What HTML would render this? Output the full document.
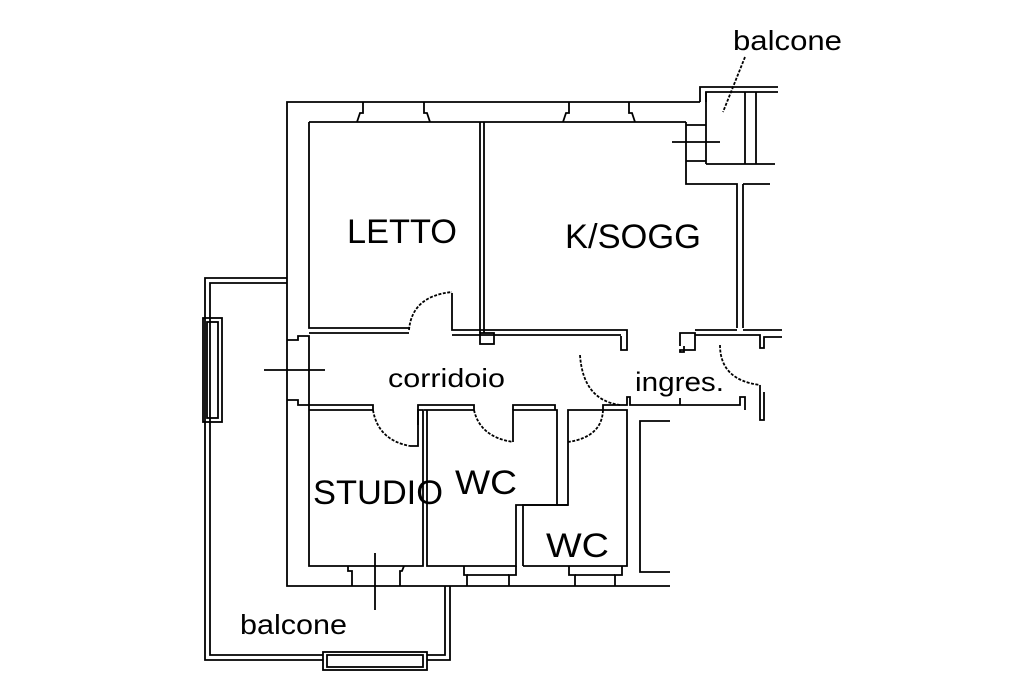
<!DOCTYPE html>
<html><head><style>
html,body{margin:0;padding:0;background:#fff;}
svg{display:block;}
text{font-family:"Liberation Sans",sans-serif;fill:#000;}
</style></head><body>
<svg width="1024" height="683" viewBox="0 0 1024 683" xmlns="http://www.w3.org/2000/svg">
<g fill="none" stroke="#000" stroke-width="1.8">
<polyline points="700,102 287,102 287,586 670,586"/>
<polyline points="686,122 309,122"/>
<polyline points="357,122 360,113 363,113 363,102"/>
<polyline points="430,122 427,113 424,113 424,102"/>
<polyline points="563,122 566,113 569,113 569,102"/>
<polyline points="635,122 632,113 629,113 629,102"/>
<polyline points="309,122 309,328 409,328"/>
<line x1="480" y1="122" x2="480" y2="333"/>
<line x1="484" y1="122" x2="484" y2="333"/>
<polyline points="452,293 452,330 627,330 627,350 621,350 621,336"/>
<rect x="480" y="333" width="14" height="11"/>
<line x1="309" y1="333" x2="409" y2="333"/>
<line x1="452" y1="335" x2="621" y2="335"/>
<path d="M409,330 Q412,296 452,292" stroke-dasharray="3,1.5"/>
<polyline points="686,122 686,184 737,184 737,328"/>
<polyline points="743,184 770,184"/>
<line x1="743" y1="184" x2="743" y2="328"/>
<polyline points="680,346 680,333 695,333 695,350 680,350 680,352 684,352 684,346"/>
<polyline points="695,330 737,330"/>
<polyline points="743,330 782,330"/>
<polyline points="695,335 760,335 760,348 764,348 764,337 782,337"/>
<path d="M720,345 Q720,380 760,385" stroke-dasharray="3,1.5"/>
<polyline points="760,385 760,420 764,420 764,392"/>
<polyline points="700,102 700,87 778,87"/>
<polyline points="706,102 706,92 778,92"/>
<line x1="706" y1="92" x2="706" y2="164"/>
<line x1="745" y1="92" x2="745" y2="164"/>
<line x1="756" y1="92" x2="756" y2="164"/>
<line x1="706" y1="164" x2="775" y2="164"/>
<line x1="686" y1="125" x2="706" y2="125"/>
<line x1="686" y1="161" x2="706" y2="161"/>
<line x1="672" y1="142" x2="720" y2="142"/>
<line x1="745" y1="57" x2="723" y2="112" stroke-dasharray="3,1.5"/>
<polyline points="287,340 298,340 298,336 309,336 309,410"/>
<polyline points="287,400 298,400 298,405 309,405"/>
<line x1="264" y1="370" x2="325" y2="370"/>
<path d="M580,355 Q583,400 620,405" stroke-dasharray="3,1.5"/>
<polyline points="309,405 373,405 373,410 309,410"/>
<polyline points="418,425 418,405 474,405 474,410"/>
<polyline points="513,410 513,405 555,405 555,410"/>
<polyline points="603,410 603,405 627,405 627,397 630,397 630,405 740,405 740,397 745,397 745,410"/>
<line x1="680" y1="398" x2="680" y2="405"/>
<polyline points="309,410 309,566 423,566 423,410 418,410 418,446 410,446"/>
<path d="M373,410 Q378,440 410,446" stroke-dasharray="3,1.5"/>
<polyline points="348,566 348,571 352,571 352,586"/>
<polyline points="404,566 402,571 400,571 400,586"/>
<line x1="375" y1="553" x2="375" y2="610"/>
<polyline points="427,410 427,566 516,566 516,505 557,505 557,410 513,410 513,442"/>
<path d="M474,410 Q480,437 513,442" stroke-dasharray="3,1.5"/>
<line x1="424" y1="410" x2="474" y2="410"/>
<polyline points="464,566 464,575 467,575 467,586"/>
<polyline points="516,566 516,575 509,575 509,586"/>
<line x1="467" y1="575" x2="509" y2="575"/>
<polyline points="523,566 523,505 568,505 568,410 627,410 627,566 523,566"/>
<line x1="557" y1="505" x2="568" y2="505"/>
<path d="M603,410 Q602,437 568,442" stroke-dasharray="3,1.5"/>
<polyline points="569,566 569,575 575,575 575,586"/>
<polyline points="622,566 622,575 615,575 615,586"/>
<line x1="575" y1="575" x2="615" y2="575"/>
<polyline points="670,421 640,421 640,572 670,572"/>
<polyline points="287,278 205,278 205,660 323,660"/>
<polyline points="287,283 210,283 210,655 323,655"/>
<rect x="203" y="318" width="19" height="104"/>
<rect x="207" y="322" width="11" height="96"/>
<rect x="323" y="652" width="104" height="18"/>
<rect x="327" y="655" width="96" height="12"/>
<polyline points="427,660 450,660 450,586"/>
<polyline points="427,655 445,655 445,586"/>
</g>
<text x="347" y="243" font-size="34" textLength="110" lengthAdjust="spacingAndGlyphs">LETTO</text>
<text x="565" y="248" font-size="34" textLength="136" lengthAdjust="spacingAndGlyphs">K/SOGG</text>
<text x="388" y="387" font-size="26" textLength="117" lengthAdjust="spacingAndGlyphs">corridoio</text>
<text x="635" y="391" font-size="27" textLength="89" lengthAdjust="spacingAndGlyphs">ingres.</text>
<text x="313" y="504" font-size="34" textLength="130" lengthAdjust="spacingAndGlyphs">STUDIO</text>
<text x="455" y="494" font-size="34" textLength="62" lengthAdjust="spacingAndGlyphs">WC</text>
<text x="546" y="557" font-size="34" textLength="63" lengthAdjust="spacingAndGlyphs">WC</text>
<text x="240" y="634" font-size="28" textLength="107" lengthAdjust="spacingAndGlyphs">balcone</text>
<text x="733" y="50" font-size="28" textLength="109" lengthAdjust="spacingAndGlyphs">balcone</text>
</svg>
</body></html>
